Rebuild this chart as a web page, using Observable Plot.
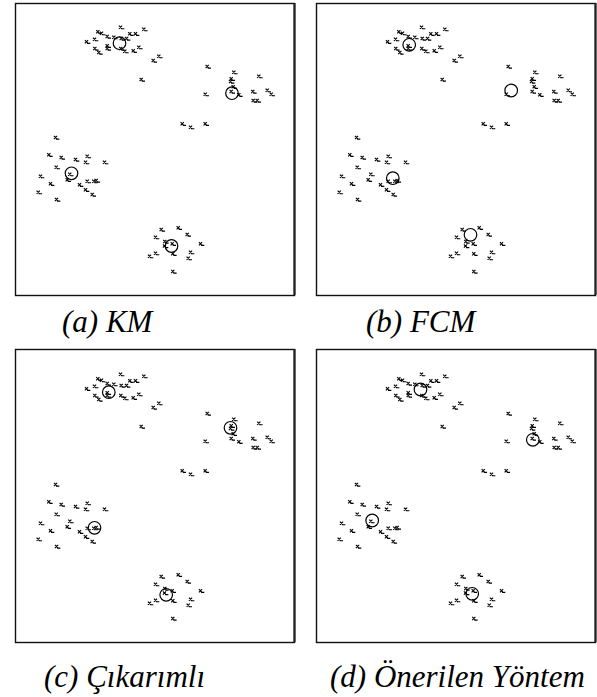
<!DOCTYPE html>
<html><head><meta charset="utf-8">
<script src="https://cdn.jsdelivr.net/npm/d3@7"></script>
<script src="https://cdn.jsdelivr.net/npm/@observablehq/plot@0.6"></script>
<style>
body{margin:0;background:#fff;width:597px;height:697px;position:relative;overflow:hidden}
.panel{position:absolute}
.cap{position:absolute;font-family:"Liberation Serif","Times New Roman",serif;font-style:italic;font-size:31px;line-height:31px;white-space:nowrap;color:#000}
</style></head><body>
<script>
// shared data points (same in all four panels)
const pointsX = [105,128.3,82.3,86,114.3,120,91.7,98.3,105.7,111,79,71,91.7,91.7,79.3,83.3,105.3,109.3,117.7,123.3,137.7,143.3,125.7,
  191.7,218.3,243.3,215.7,215,217.7,215.7,223.3,189.7,237.3,251.7,255.7,237.7,241.7,166.7,175,189.7,
  40,33.3,45.7,60,71.7,70,89,40.7,25,54.3,51.7,35,64,71.7,78.3,80.7,70,76.7,22.7,41,
  145.7,162.7,171.7,140,185,149.3,149,156.7,157.3,140,134,175,172.7,157.3];
const pointsY = [268.3,266.3,263.7,262.3,261.7,261.7,259,258.3,257,257,256.3,253.7,249.7,247,247,243,247,244.3,244.7,248.3,235,239.3,216,
  229,223.3,219.3,216.7,214,208.7,204,200.7,201.3,204,205.3,201.3,195,195,171.7,168.3,171.7,
  158,140.7,138,136,139.3,133.3,133.3,128.3,119.3,121.3,115.7,111.7,110.7,114.3,114.3,115,105.7,101,103.3,96,
  66,67.7,61,58.3,51.7,54,49.5,51.7,41.7,42.3,39.3,43.3,37.3,24];
// cluster centres found by each method
const kmX = [104,216.5,56,156],   kmY = [252.3,202.3,122.2,49.5];
const fcmX = [92.7,194.7,76.3,154], fcmY = [250.7,205,117.3,60.7];
const cikX = [93.3,215,79,150.7], cikY = [250.3,214.7,114.7,47.7];
const oneX = [104,216.3,55.7,155.7], oneY = [253,202.7,122,48.7];
const captions = ["(a) KM","(b) FCM","(c) Çıkarımlı","(d) Önerilen Yöntem"];

const points = pointsX.map((x,i)=>({x, y: pointsY[i]}));
const cents = [[kmX,kmY],[fcmX,fcmY],[cikX,cikY],[oneX,oneY]].map(([xs,ys])=>xs.map((x,i)=>({x,y:ys[i]})));

const xMark = {draw(ctx, size){
  const s = Math.sqrt(size)/2;
  ctx.moveTo(-s,-s); ctx.lineTo(s,s);
  ctx.moveTo(s,-s); ctx.lineTo(-s,s);
  ctx.moveTo(s*0.3, s); ctx.lineTo(s*2.4, s);
}};

const layout = [
  {left:14, top:2, h:294, yd:292, cx:62, cy:306},
  {left:315, top:2, h:294, yd:292, cx:366, cy:306},
  {left:14, top:348, h:295, yd:293, cx:44, cy:661},
  {left:315, top:348, h:295, yd:293, cx:330, cy:661}
];

layout.forEach((L,k)=>{
  const chart = Plot.plot({
    width: 281, height: L.h,
    marginTop:1, marginBottom:1, marginLeft:1, marginRight:1,
    x:{domain:[0,279], axis:null},
    y:{domain:[0,L.yd], axis:null},
    marks:[
      Plot.frame({stroke:"#111", strokeWidth:1.4}),
      Plot.ruleX([279], {stroke:"#222", strokeWidth:2.2}),
      Plot.dot(points, {x:"x", y:"y", r:1.8, symbol:xMark, fill:"none", stroke:"#000", strokeWidth:1.15}),
      Plot.dot(cents[k], {x:"x", y:"y", r:6.3, fill:"none", stroke:"#000", strokeWidth:1.2})
    ]
  });
  chart.classList.add("panel");
  chart.style.left = L.left+"px";
  chart.style.top = L.top+"px";
  chart.style.overflow = "visible";
  document.body.appendChild(chart);
  const c = document.createElement("div");
  c.className = "cap";
  c.textContent = captions[k];
  c.style.left = L.cx+"px";
  c.style.top = L.cy+"px";
  document.body.appendChild(c);
});
</script></body></html>
